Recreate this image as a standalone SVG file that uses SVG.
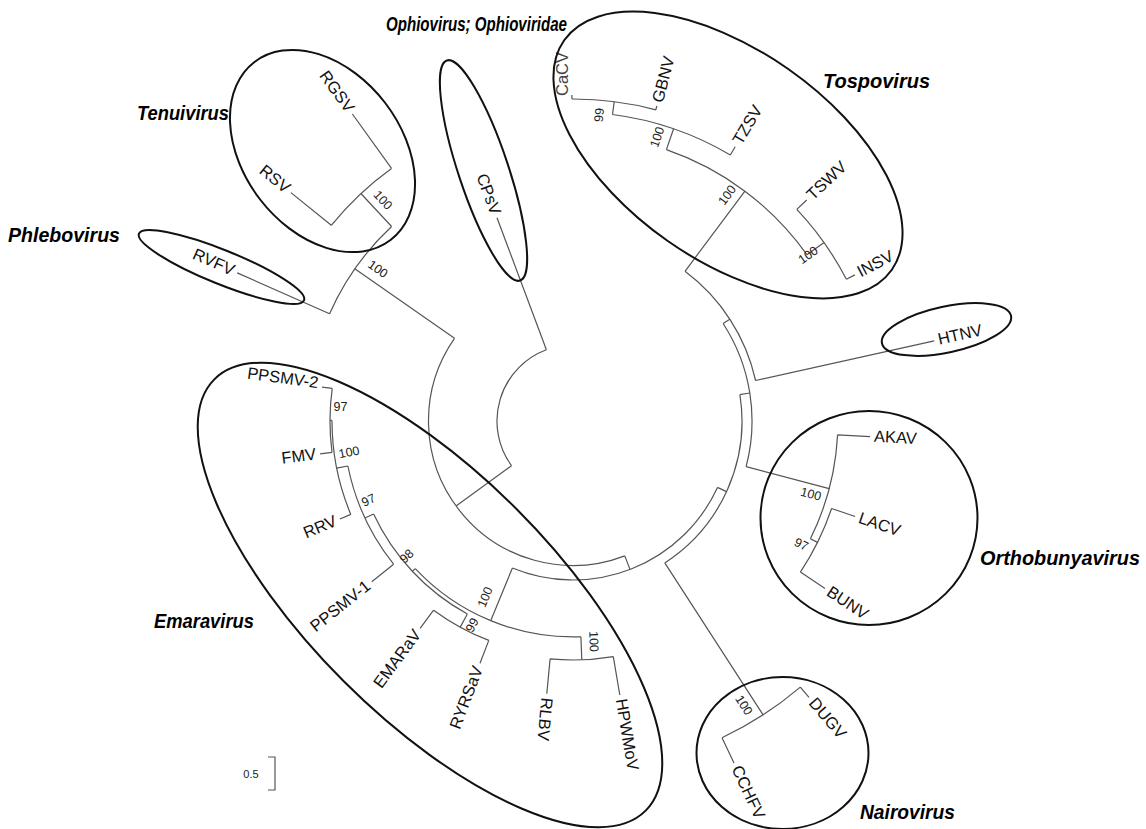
<svg xmlns="http://www.w3.org/2000/svg" width="1146" height="829" viewBox="0 0 1146 829">
<style>
.br{fill:none;stroke:#555;stroke-width:1.2}
.grp{fill:none;stroke:#111;stroke-width:2}
.tx{font-family:"Liberation Sans",Arial,sans-serif;font-size:16.5px;fill:#111}
.s{text-anchor:start}
.e{text-anchor:end}
.bs{font-family:"Liberation Sans",Arial,sans-serif;font-size:12.5px;fill:#222;text-anchor:middle}
.cl{font-family:"Liberation Sans",Arial,sans-serif;font-size:19.5px;font-weight:bold;font-style:italic;fill:#000}
</style>
<rect width="1146" height="829" fill="#fff"/>
<g id="connectors">
<path class="br" d="M546.4,349.8 A76,76 0 0 0 511.5,465.7 M497,217.7 L546.4,349.8 M511.5,465.7 L456.1,505.9"/>
<path class="br" d="M454.5,338.3 A144.5,144.5 0 0 0 624.8,555.9 M454.5,338.3 L354.8,268.8 M624.8,555.9 L630,569.4"/>
<path class="br" d="M512.4,568 A159,159 0 0 0 717.5,487.4 M512.4,568 L490.7,620.7 M717.5,487.4 L726.5,491.6"/>
<path class="br" d="M664.8,562.9 A169,169 0 0 0 739.9,394.6 M664.8,562.9 L763.1,714.9 M739.9,394.6 L749.8,393"/>
<path class="br" d="M746.1,466.7 A179,179 0 0 0 723.1,323.5 M746.1,466.7 L829.2,488.7 M723.1,323.5 L729.8,319.2"/>
<path class="br" d="M755.6,380.5 A187,187 0 0 0 685,271.3 M755.6,380.5 L934.2,340.9 M685,271.3 L744.9,191.2"/>
<path class="br" d="M329.6,313.7 A266,266 0 0 1 391.6,226.5 M329.6,313.7 L237.2,272.9 M391.6,226.5 L360.9,193.5"/>
<path class="br" d="M331.3,225.3 A311,311 0 0 1 391.5,168.4 M331.3,225.3 L290.9,192.6 M391.5,168.4 L352.4,114"/>
<path class="br" d="M415.3,568.6 A216,216 0 0 0 580.9,636.8 M415.3,568.6 L412.4,571.3 M580.9,636.8 L581.8,659.8"/>
<path class="br" d="M550.1,658.9 A239,239 0 0 0 613.3,656.6 M550.1,658.9 L546.8,693.7 M613.3,656.6 L619.8,695"/>
<path class="br" d="M373.6,514 A220,220 0 0 0 467.4,614 M373.6,514 L364.9,518 M467.4,614 L460.2,627.1"/>
<path class="br" d="M433.6,610.2 A235,235 0 0 0 488.8,640.4 M433.6,610.2 L420.1,628.3 M488.8,640.4 L480,663.3"/>
<path class="br" d="M347.9,466 A229.6,229.6 0 0 0 393.6,564.2 M393.6,564.2 L371.8,581.7 M347.9,466 L336.7,468.2"/>
<path class="br" d="M332,420.4 A241,241 0 0 0 350.8,514.4 M350.8,514.4 L339.9,519 M332,420.4 L330,420.4"/>
<path class="br" d="M332.2,388.4 A243,243 0 0 0 332,452.3 M332.2,388.4 L322,387.1 M332,452.3 L320.1,453.8"/>
<path class="br" d="M837.6,434.9 A265,265 0 0 1 810.4,538.8 M837.6,434.9 L870,436.6 M810.4,538.8 L817.5,542.4"/>
<path class="br" d="M831.6,508.5 A273,273 0 0 1 800.4,572.1 M831.6,508.5 L855.1,516.5 M800.4,572.1 L825,588.4"/>
<path class="br" d="M800.3,687.1 A350,350 0 0 1 722,737.7 M800.3,687.1 L809,697.3 M722,737.7 L734,763"/>
<path class="br" d="M666.4,149.6 A287,287 0 0 1 806.9,254.7 M666.4,149.6 L673.6,128.8 M806.9,254.7 L824.1,242.6"/>
<path class="br" d="M612.5,114.5 A309,309 0 0 1 730.3,155 M730.3,155 L735.2,146.8 M612.5,114.5 L614.2,101.6"/>
<path class="br" d="M571.9,99 A322,322 0 0 1 655.8,109.8 M571.9,99 L571.9,95 M655.8,109.8 L656.8,106"/>
<path class="br" d="M796.8,209.4 A308,308 0 0 1 846.4,279.3 M796.8,209.4 L806.7,200 M846.4,279.3 L854.9,274.9"/>
</g>
<g id="support-values">
<text class="bs" x="383" y="200" dy=".35em" transform="rotate(47 383 200)">100</text>
<text class="bs" x="378" y="269" dy=".35em" transform="rotate(35 378 269)">100</text>
<text class="bs" x="599" y="115" dy=".35em" transform="rotate(-82.6 599 115)">99</text>
<text class="bs" x="657" y="137" dy=".35em" transform="rotate(-71 657 137)">100</text>
<text class="bs" x="727" y="195" dy=".35em" transform="rotate(-53 727 195)">100</text>
<text class="bs" x="808" y="255" dy=".35em" transform="rotate(-35 808 255)">100</text>
<text class="bs" x="811" y="494" dy=".35em" transform="rotate(14.7 811 494)">100</text>
<text class="bs" x="801.5" y="544" dy=".35em" transform="rotate(26 801.5 544)">97</text>
<text class="bs" x="744" y="705" dy=".35em" transform="rotate(57 744 705)">100</text>
<text class="bs" x="594" y="641.5" dy=".35em" transform="rotate(88 594 641.5)">100</text>
<text class="bs" x="485" y="597" dy=".35em" transform="rotate(-67.6 485 597)">100</text>
<text class="bs" x="472" y="625" dy=".35em" transform="rotate(-61 472 625)">99</text>
<text class="bs" x="406.5" y="556" dy=".35em" transform="rotate(-43 406.5 556)">98</text>
<text class="bs" x="368.5" y="500" dy=".35em" transform="rotate(-25 368.5 500)">97</text>
<text class="bs" x="349" y="452" dy=".35em" transform="rotate(-11 349 452)">100</text>
<text class="bs" x="340.5" y="407" dy=".35em">97</text>
</g>
<g id="node-HTNV"><text class="tx s" x="938.1" y="340" dy=".3em" transform="rotate(-12.5 938.1 340)">HTNV</text></g>
<g id="node-AKAV"><text class="tx s" x="874.1" y="436.8" dy=".3em" transform="rotate(3 874.1 436.8)">AKAV</text></g>
<g id="node-LACV"><text class="tx s" x="859" y="517.8" dy=".3em" transform="rotate(18.7 859 517.8)">LACV</text></g>
<g id="node-BUNV"><text class="tx s" x="828.3" y="590.6" dy=".3em" transform="rotate(33.6 828.3 590.6)">BUNV</text></g>
<g id="node-DUGV"><text class="tx s" x="811.7" y="700.4" dy=".3em" transform="rotate(49.5 811.7 700.4)">DUGV</text></g>
<g id="node-CCHFV"><text class="tx s" x="735.7" y="766.6" dy=".3em" transform="rotate(64.8 735.7 766.6)">CCHFV</text></g>
<g id="node-HPWMoV"><text class="tx s" x="620.5" y="699" dy=".3em" transform="rotate(80.3 620.5 699)">HPWMoV</text></g>
<g id="node-RLBV"><text class="tx s" x="546.4" y="697.7" dy=".3em" transform="rotate(95.5 546.4 697.7)">RLBV</text></g>
<g id="node-CaCV"><text class="tx s" x="563.5" y="96" dy=".3em" style="fill:#444" transform="rotate(-90 563.5 96)">CaCV</text></g>
<g id="node-GBNV"><text class="tx s" x="657.9" y="102.1" dy=".3em" transform="rotate(-75.1 657.9 102.1)">GBNV</text></g>
<g id="node-TZSV"><text class="tx s" x="737.2" y="143.3" dy=".3em" transform="rotate(-59.4 737.2 143.3)">TZSV</text></g>
<g id="node-TSWV"><text class="tx s" x="809.6" y="197.3" dy=".3em" transform="rotate(-43.4 809.6 197.3)">TSWV</text></g>
<g id="node-INSV"><text class="tx s" x="858.4" y="273.1" dy=".3em" transform="rotate(-27.4 858.4 273.1)">INSV</text></g>
<g id="node-RYRSaV"><text class="tx e" x="478.6" y="667" dy=".3em" transform="rotate(-69 478.6 667)">RYRSaV</text></g>
<g id="node-EMARaV"><text class="tx e" x="417.8" y="631.6" dy=".3em" transform="rotate(-53.6 417.8 631.6)">EMARaV</text></g>
<g id="node-PPSMV-1"><text class="tx e" x="368.6" y="584.1" dy=".3em" transform="rotate(-38.6 368.6 584.1)">PPSMV-1</text></g>
<g id="node-RRV"><text class="tx e" x="336.1" y="520.6" dy=".3em" transform="rotate(-22.8 336.1 520.6)">RRV</text></g>
<g id="node-FMV"><text class="tx e" x="316.1" y="454.4" dy=".3em" transform="rotate(-7.4 316.1 454.4)">FMV</text></g>
<g id="node-PPSMV-2"><text class="tx e" x="317.8" y="386.5" dy=".1em" transform="rotate(7.7 317.8 386.5)">PPSMV-2</text></g>
<g id="node-RVFV"><text class="tx e" x="233.5" y="271.3" dy=".3em" transform="rotate(23.8 233.5 271.3)">RVFV</text></g>
<g id="node-RSV"><text class="tx e" x="287.8" y="190" dy=".3em" transform="rotate(39 287.8 190)">RSV</text></g>
<g id="node-RGSV"><text class="tx e" x="350.1" y="110.8" dy=".3em" transform="rotate(54.3 350.1 110.8)">RGSV</text></g>
<g id="node-CPsV"><text class="tx e" x="495.6" y="214" dy=".3em" transform="rotate(69.5 495.6 214)">CPsV</text></g>
<g id="clade-tenuivirus"><ellipse class="grp" cx="322.5" cy="151" rx="112" ry="79" transform="rotate(52.6 322.5 151)"/><text class="cl" x="137" y="120" textLength="92" lengthAdjust="spacingAndGlyphs">Tenuivirus</text></g>
<g id="clade-phlebovirus"><ellipse class="grp" cx="221.5" cy="267" rx="89" ry="17" transform="rotate(22 221.5 267)"/><text class="cl" x="8" y="242" textLength="112" lengthAdjust="spacingAndGlyphs">Phlebovirus</text></g>
<g id="clade-ophiovirus"><ellipse class="grp" cx="483.5" cy="170.5" rx="116" ry="25" transform="rotate(71.6 483.5 170.5)"/><text class="cl" x="386" y="31" style="font-size:20.5px" textLength="181" lengthAdjust="spacingAndGlyphs">Ophiovirus; Ophioviridae</text></g>
<g id="clade-tospovirus"><ellipse class="grp" cx="728" cy="155" rx="200" ry="105" transform="rotate(35 728 155)"/><text class="cl" x="823" y="88" textLength="107" lengthAdjust="spacingAndGlyphs">Tospovirus</text></g>
<g id="clade-hantavirus"><ellipse class="grp" cx="946.5" cy="329.5" rx="66" ry="23" transform="rotate(-12 946.5 329.5)"/></g>
<g id="clade-orthobunyavirus"><ellipse class="grp" cx="869" cy="518" rx="108.5" ry="107"/><text class="cl" x="980" y="565" textLength="160" lengthAdjust="spacingAndGlyphs">Orthobunyavirus</text></g>
<g id="clade-nairovirus"><ellipse class="grp" cx="782.5" cy="753" rx="86" ry="76"/><text class="cl" x="860" y="819" textLength="95" lengthAdjust="spacingAndGlyphs">Nairovirus</text></g>
<g id="clade-emaravirus"><ellipse class="grp" cx="430" cy="595" rx="305" ry="122" transform="rotate(45 430 595)"/><text class="cl" x="154" y="628" textLength="100" lengthAdjust="spacingAndGlyphs">Emaravirus</text></g>
<g id="scale-bar"><path class="br" d="M268,757 H275 V790 H268"/><text class="bs" x="251" y="778" style="font-size:11px">0.5</text></g>
</svg>
